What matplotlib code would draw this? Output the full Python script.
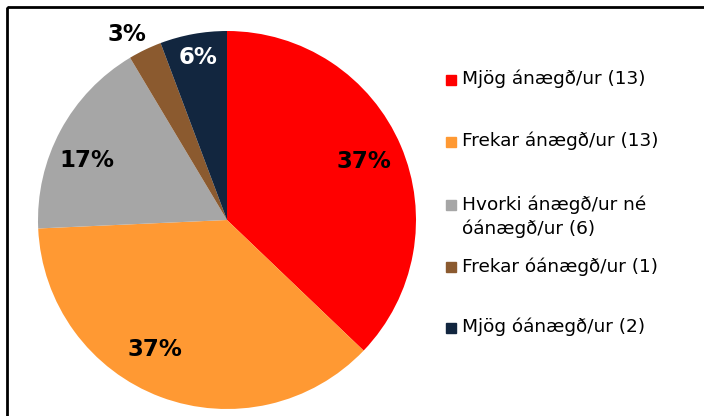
import matplotlib.pyplot as plt
from matplotlib.patches import Rectangle
import numpy as np

labels = ['Mjög ánægð/ur (13)', 'Frekar ánægð/ur (13)', 'Hvorki ánægð/ur né\nóánægð/ur (6)',
          'Frekar óánægð/ur (1)', 'Mjög óánægð/ur (2)']
counts = [13, 13, 6, 1, 2]
colors = ['#FF0000', '#FF9933', '#A6A6A6', '#8B5A2F', '#12263F']
pct_colors = ['black', 'black', 'black', 'black', 'white']
# radial distance and angular nudge of each percentage label
pct_dist = [0.79, 0.786, 0.806, 1.117, 0.872]
pct_shift = [0, -8.4, 5.1, 2.6, 0]

W, H = 704, 416
fig = plt.figure(figsize=(W / 100, H / 100), dpi=100)

# full-figure overlay in pixel units for frame and legend
bg = fig.add_axes([0, 0, 1, 1])
bg.set_xlim(0, W)
bg.set_ylim(H, 0)
bg.axis('off')
bg.add_patch(Rectangle((7, 7), W, H, fill=False, lw=2, ec='black'))

cx, cy, r = 227, 220, 189
ax = fig.add_axes([(cx - r) / W, (H - cy - r) / H, 2 * r / W, 2 * r / H])
wedges, _ = ax.pie(counts, colors=colors, startangle=90, counterclock=False, radius=1)
ax.set_xlim(-1, 1)
ax.set_ylim(-1, 1)
ax.set_aspect('equal')
ax.axis('off')

total = sum(counts)
for w, c, tc, d, s in zip(wedges, counts, pct_colors, pct_dist, pct_shift):
    ang = np.deg2rad((w.theta1 + w.theta2) / 2 + s)
    ax.text(d * np.cos(ang), d * np.sin(ang), f'{round(100 * c / total)}%',
            ha='center', va='center', fontsize=16.5, fontweight='bold', color=tc)

# legend
ys = [80, 142, 205, 267, 328]
for y, lab, col in zip(ys, labels, colors):
    bg.add_patch(Rectangle((446, y - 5), 10, 10, color=col))
    bg.text(462, y - 10, lab, ha='left', va='top', fontsize=13.3, color='black',
            linespacing=1.4)

fig.savefig('out.png', dpi=100)
